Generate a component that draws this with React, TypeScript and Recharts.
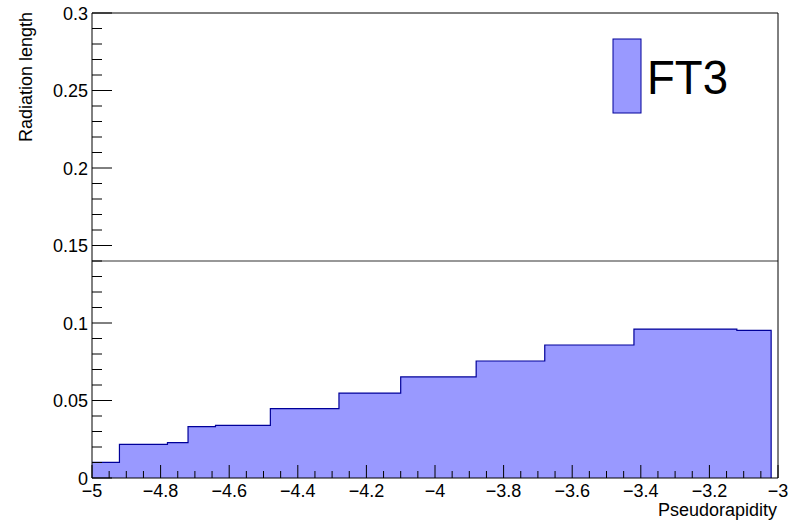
import React from 'react';
import { ComposedChart, Area, XAxis, YAxis, ReferenceLine } from 'recharts';

// Material budget per pseudorapidity bin (variable bin widths)
const binEdges = [-5, -4.92, -4.78, -4.72, -4.64, -4.48, -4.28, -4.1, -3.88, -3.68, -3.42, -3.12, -3.02];
const radLength = [0.0101, 0.0217, 0.0228, 0.0331, 0.034, 0.0447, 0.0548, 0.0652, 0.0755, 0.0858, 0.0961, 0.0953];
const seriesName = 'FT3';
const refLevel = 0.14;

const xDomain: [number, number] = [-5, -3];
const yDomain: [number, number] = [0, 0.3];
const xMajor = [-5, -4.8, -4.6, -4.4, -4.2, -4, -3.8, -3.6, -3.4, -3.2, -3];
const yMajor = [0, 0.05, 0.1, 0.15, 0.2, 0.25, 0.3];
const xMinorStep = 0.05;
const yMinorStep = 0.01;

const FILL = '#9999ff';
const LINE = '#000099';
const FONT = '"Liberation Sans", Arial, sans-serif';

const buildTicks = (lo: number, hi: number, step: number) => {
  const out: number[] = [];
  const n = Math.round((hi - lo) / step);
  for (let i = 0; i <= n; i++) out.push(Number((lo + i * step).toFixed(4)));
  return out;
};
const xTicks = buildTicks(xDomain[0], xDomain[1], xMinorStep);
const yTicks = buildTicks(yDomain[0], yDomain[1], yMinorStep);

const isMajor = (v: number, majors: number[]) => majors.some((m) => Math.abs(m - v) < 1e-6);
const fmt = (v: number) => String(Number(v.toFixed(3))).replace('-', '\u2212');

// step histogram points: each edge carries the bin content, then drop to zero at the last edge
const histData = [
  ...radLength.map((v, i) => ({ x: binEdges[i], y: v })),
  { x: binEdges[binEdges.length - 1], y: radLength[radLength.length - 1] },
  { x: binEdges[binEdges.length - 1], y: 0 },
];

const XTick = (props: any) => {
  const { x, y, payload } = props;
  const major = isMajor(payload.value, xMajor);
  return (
    <g>
      <line x1={x} y1={y} x2={x} y2={y - (major ? 13 : 7)} stroke="#000" strokeWidth={1} />
      {major && (
        <text x={x} y={y + 19} textAnchor="middle" fontSize={18} fontFamily={FONT} fill="#000">
          {fmt(payload.value)}
        </text>
      )}
    </g>
  );
};

const YTick = (props: any) => {
  const { x, y, payload } = props;
  const major = isMajor(payload.value, yMajor);
  return (
    <g>
      <line x1={x} y1={y} x2={x + (major ? 20 : 10)} y2={y} stroke="#000" strokeWidth={1} />
      {major && (
        <text x={x - 4} y={y + 6.5} textAnchor="end" fontSize={18} fontFamily={FONT} fill="#000">
          {fmt(payload.value)}
        </text>
      )}
    </g>
  );
};

export default function App() {
  return (
    <div style={{ position: 'absolute', left: 0, top: 0, width: 801, height: 520, background: '#fff' }}>
      <ComposedChart
        width={801}
        height={520}
        data={histData}
        margin={{ top: 13, right: 23, bottom: 0, left: 0 }}
      >
        <XAxis
          dataKey="x"
          type="number"
          domain={xDomain}
          allowDataOverflow
          ticks={xTicks}
          interval={0}
          height={42}
          tickSize={0}
          tickMargin={0}
          tickLine={false}
          axisLine={{ stroke: '#000', strokeWidth: 1 }}
          tick={<XTick />}
          label={{
            content: () => (
              <text x={777} y={516} textAnchor="end" fontSize={18} fontFamily={FONT} fill="#000">
                Pseudorapidity
              </text>
            ),
          }}
        />
        <YAxis
          type="number"
          domain={yDomain}
          allowDataOverflow
          ticks={yTicks}
          interval={0}
          width={92}
          tickSize={0}
          tickMargin={0}
          tickLine={false}
          axisLine={{ stroke: '#000', strokeWidth: 1 }}
          tick={<YTick />}
          label={{
            content: () => (
              <text
                x={32}
                y={12}
                transform="rotate(-90, 32, 12)"
                textAnchor="end"
                fontSize={18}
                fontFamily={FONT}
                fill="#000"
              >
                Radiation length
              </text>
            ),
          }}
        />
        <Area
          type="stepAfter"
          dataKey="y"
          name={seriesName}
          stroke={LINE}
          strokeWidth={1.2}
          fill={FILL}
          fillOpacity={1}
          baseValue={0}
          dot={false}
          activeDot={false}
          isAnimationActive={false}
        />
        <ReferenceLine y={refLevel} stroke="#333" strokeWidth={1.2} />
        <ReferenceLine y={yDomain[1]} stroke="#000" strokeWidth={1} />
        <ReferenceLine x={xDomain[1]} stroke="#000" strokeWidth={1} />
      </ComposedChart>
      <svg width={801} height={520} style={{ position: 'absolute', left: 0, top: 0, pointerEvents: 'none' }}>
        <rect x={613} y={39} width={28} height={74} fill={FILL} stroke={LINE} strokeWidth={1} />
        <text x={647} y={94} fontSize={49} fontFamily={FONT} fill="#000" textLength={81} lengthAdjust="spacingAndGlyphs">
          {seriesName}
        </text>
      </svg>
    </div>
  );
}
